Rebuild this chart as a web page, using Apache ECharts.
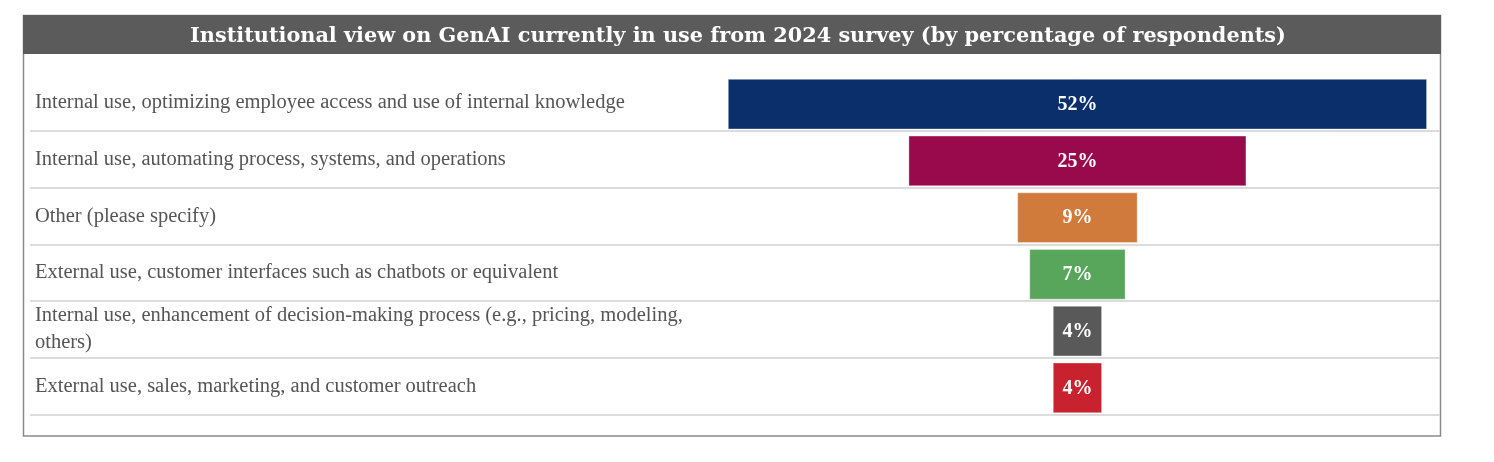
<!DOCTYPE html>
<html>
<head>
<meta charset="utf-8">
<script src="https://cdn.jsdelivr.net/npm/echarts@6/dist/echarts.min.js"></script>
<style>html,body{margin:0;padding:0;background:#fff;}#c{width:1494px;height:462px;}</style>
</head>
<body>
<div id="c"></div>
<script>
var titleText = 'Institutional view on GenAI currently in use from 2024 survey (by percentage of respondents)';
var categories = [
  'Internal use, optimizing employee access and use of internal knowledge',
  'Internal use, automating process, systems, and operations',
  'Other (please specify)',
  'External use, customer interfaces such as chatbots or equivalent',
  'Internal use, enhancement of decision-making process (e.g., pricing, modeling,\nothers)',
  'External use, sales, marketing, and customer outreach'
];
var values = [52, 25.1, 8.9, 7.1, 3.6, 3.6];
var colors = ['#0a2f6b', '#990a4d', '#d07a3b', '#58a55c', '#595959', '#c8222f'];

var chart = echarts.init(document.getElementById('c'), null, {renderer: 'canvas'});
var option = {
  animation: false,
  backgroundColor: '#ffffff',
  title: {
    text: titleText,
    left: 733, top: 21, textAlign: 'center',
    textStyle: {color: '#ffffff', fontFamily: 'DejaVu Serif', fontWeight: 'bold', fontSize: 20.8}
  },
  graphic: [
    {type: 'rect', z: -10, shape: {x: 23.5, y: 15.5, width: 1417, height: 420.5},
     style: {fill: '#ffffff', stroke: '#8a8a8a', lineWidth: 1.5}},
    {type: 'rect', z: -9, shape: {x: 23, y: 15, width: 1418, height: 39},
     style: {fill: '#5b5b5b'}}
  ],
  grid: {left: 30, right: 54, top: 74.3, bottom: 47.3},
  xAxis: {
    type: 'value', min: -78, max: 27,
    axisLine: {show: false}, axisTick: {show: false}, axisLabel: {show: false}, splitLine: {show: false}
  },
  yAxis: {
    type: 'category', data: categories, inverse: true,
    axisLine: {show: false}, axisTick: {show: false},
    axisLabel: {inside: true, align: 'left', margin: 5, color: '#555555',
      fontFamily: 'Liberation Serif', fontSize: 20.5, lineHeight: 27, padding: [5, 0, 0, 0]},
    splitLine: {show: true, interval: function (index) { return index !== 0; },
      lineStyle: {color: '#dcdcdc', width: 2}}
  },
  series: [{
    type: 'custom',
    data: values.map(function (v, i) { return [v, i]; }),
    encode: {x: 0, y: 1},
    renderItem: function (params, api) {
      var v = api.value(0), idx = api.value(1);
      var p0 = api.coord([-v / 2, idx]);
      var p1 = api.coord([v / 2, idx]);
      var h = api.size([0, 1])[1] * 0.875;
      return {
        type: 'group',
        children: [
          {type: 'rect', shape: {x: p0[0], y: p0[1] - h / 2 + 1.5, width: p1[0] - p0[0], height: h},
           style: {fill: colors[params.dataIndex], stroke: 'rgba(255,255,255,0.35)', lineWidth: 1}},
          {type: 'text', style: {text: Math.round(v) + '%', x: (p0[0] + p1[0]) / 2, y: p0[1] + 2,
            textAlign: 'center', textVerticalAlign: 'middle', fill: '#ffffff',
            font: 'bold 20px "Liberation Serif"'}}
        ]
      };
    }
  }]
};
chart.setOption(option);
</script>
</body>
</html>
